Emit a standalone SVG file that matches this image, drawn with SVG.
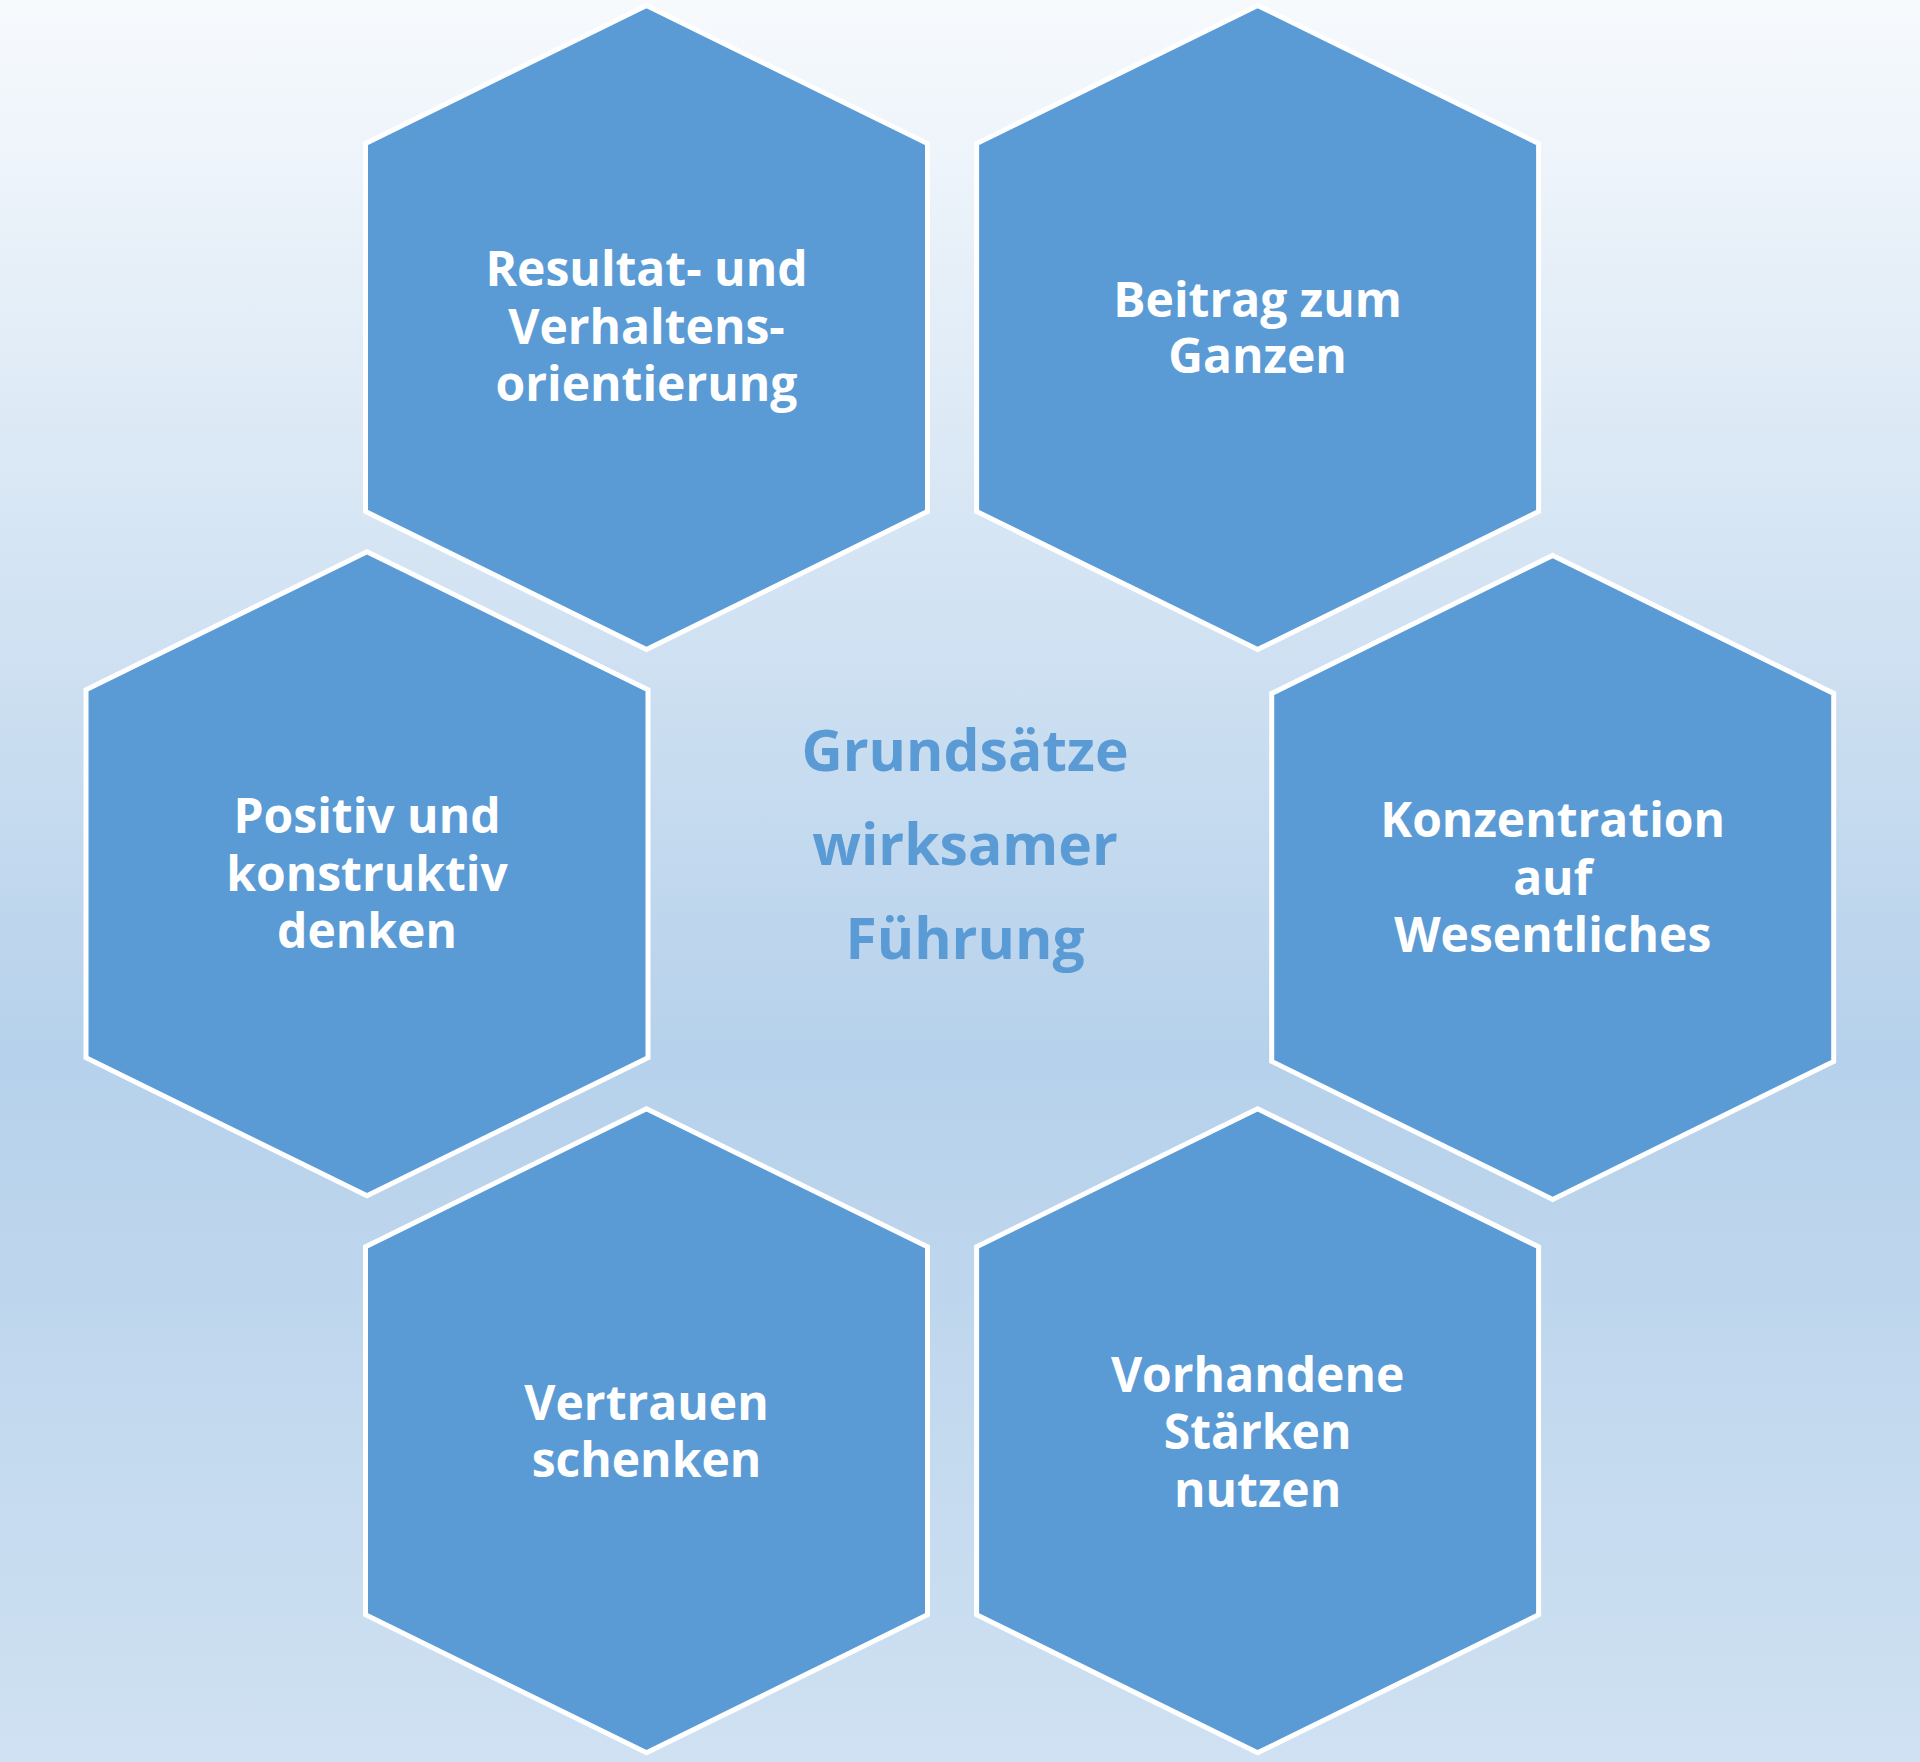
<svg xmlns="http://www.w3.org/2000/svg" width="1920" height="1762" viewBox="0 0 1920 1762">
<defs>
<linearGradient id="bg" x1="0" y1="0" x2="0" y2="1">
<stop offset="0" stop-color="#f7fafd"/>
<stop offset="0.6" stop-color="#b6d1eb"/>
<stop offset="1" stop-color="#cfe1f2"/>
</linearGradient>
<polygon id="hex" points="0,-322 281,-184 281,184 0,322 -281,184 -281,-184"/>
</defs>
<style>
.h{fill:#5b9bd5;stroke:#ffffff;stroke-width:5}
.t{font-family:"Open Sans","Liberation Sans",sans-serif;font-weight:bold;font-size:48px;fill:#ffffff;text-anchor:middle;dominant-baseline:central}
.c{font-family:"Open Sans","Liberation Sans",sans-serif;font-weight:bold;font-size:57px;fill:#5b9bd5;text-anchor:middle;dominant-baseline:central}
</style>
<rect width="1920" height="1762" fill="url(#bg)"/>
<g id="n1"><use href="#hex" class="h" x="646.5" y="327.5"/><text class="t"><tspan x="646.5" y="267">Resultat- und</tspan><tspan x="646.5" y="324.5">Verhaltens-</tspan><tspan x="646.5" y="382">orientierung</tspan></text></g>
<g id="n2"><use href="#hex" class="h" x="1257.6" y="327.5"/><text class="t"><tspan x="1257.6" y="297.6">Beitrag zum</tspan><tspan x="1257.6" y="354">Ganzen</tspan></text></g>
<g id="n3"><use href="#hex" class="h" x="367" y="873.7"/><text class="t"><tspan x="367" y="814">Positiv und</tspan><tspan x="367" y="872">konstruktiv</tspan><tspan x="367" y="929">denken</tspan></text></g>
<g id="n4"><use href="#hex" class="h" x="1552.7" y="877.4"/><text class="t"><tspan x="1552.7" y="818">Konzentration</tspan><tspan x="1552.7" y="875.5">auf</tspan><tspan x="1552.7" y="933">Wesentliches</tspan></text></g>
<g id="n5"><use href="#hex" class="h" x="646.5" y="1430.8"/><text class="t"><tspan x="646.5" y="1401">Vertrauen</tspan><tspan x="646.5" y="1458">schenken</tspan></text></g>
<g id="n6"><use href="#hex" class="h" x="1257.6" y="1430.8"/><text class="t"><tspan x="1257.6" y="1373">Vorhandene</tspan><tspan x="1257.6" y="1430">Stärken</tspan><tspan x="1257.6" y="1488">nutzen</tspan></text></g>
<g id="center"><text class="c"><tspan x="965" y="749">Grundsätze</tspan><tspan x="965" y="842.5">wirksamer</tspan><tspan x="965" y="937">Führung</tspan></text></g>
<g id="connectors"/>
</svg>
